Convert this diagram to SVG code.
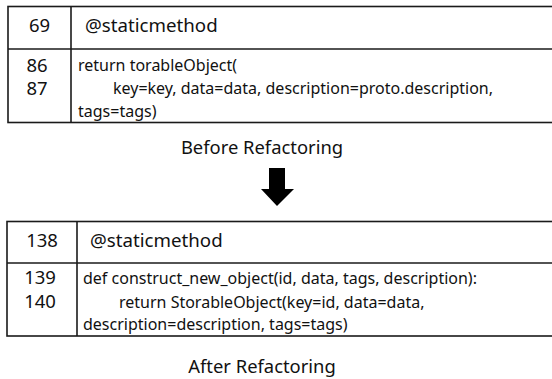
<svg xmlns="http://www.w3.org/2000/svg" width="552" height="379" viewBox="0 0 552 379">
<style>
.b{fill:none;stroke:#1a1a1a;stroke-width:1.6}
.n{font-family:"Noto Sans","Open Sans",sans-serif;font-size:18.5px;fill:#111;text-anchor:middle}
.h{font-family:"Noto Sans","Open Sans",sans-serif;font-size:18.7px;fill:#111}
.c{font-family:"Noto Sans","Open Sans",sans-serif;font-size:16px;fill:#111}
.cap{font-family:"Noto Sans","Open Sans",sans-serif;font-size:18.4px;fill:#111;text-anchor:middle}
</style>
<rect width="552" height="379" fill="#fff"/>
<g id="before">
<rect class="b" x="8" y="6.5" width="560" height="116"/>
<line class="b" x1="71" y1="6.5" x2="71" y2="122.5"/>
<line class="b" x1="8" y1="49" x2="560" y2="49"/>
<text class="n" x="39.5" y="32">69</text>
<text class="h" x="85" y="32">@staticmethod</text>
<text class="n" x="37" y="71.5">86</text>
<text class="n" x="37" y="95">87</text>
<text class="c" x="78" y="71">return torableObject(</text>
<text class="c" x="113" y="94">key=key, data=data, description=proto.description,</text>
<text class="c" x="78" y="117">tags=tags)</text>
</g>
<text class="cap" x="262" y="154">Before Refactoring</text>
<g id="arrow">
<polygon points="269,168 285,168 285,189 294,189 277,206 261,189 269,189" fill="#000"/>
</g>
<g id="after">
<rect class="b" x="7" y="221.5" width="560" height="114.5"/>
<line class="b" x1="77" y1="221.5" x2="77" y2="336"/>
<line class="b" x1="7" y1="263" x2="560" y2="263"/>
<text class="n" x="42" y="247">138</text>
<text class="h" x="90" y="247">@staticmethod</text>
<text class="n" x="40" y="284">139</text>
<text class="n" x="40" y="308">140</text>
<text class="c" x="83" y="284">def construct_new_object(id, data, tags, description):</text>
<text class="c" x="119" y="308">return StorableObject(key=id, data=data,</text>
<text class="c" x="83" y="330">description=description, tags=tags)</text>
</g>
<text class="cap" x="262" y="373">After Refactoring</text>
</svg>
